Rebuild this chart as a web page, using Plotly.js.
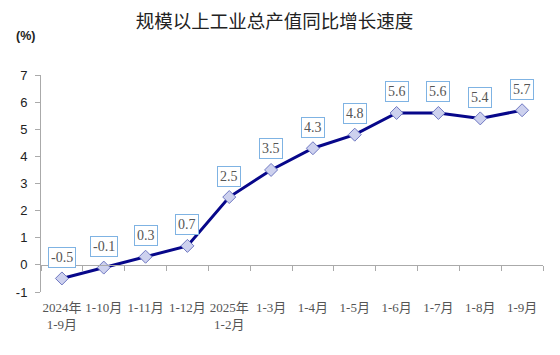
<!DOCTYPE html>
<html>
<head>
<meta charset="utf-8">
<script src="https://cdn.plot.ly/plotly-3.0.1.min.js"></script>
<style>html,body{margin:0;padding:0;background:#fff;}#chart{width:560px;height:355px;}</style>
</head>
<body>
<div id="chart"></div>
<script>
const categories = ["2024年<br>1-9月","1-10月","1-11月","1-12月","2025年<br>1-2月","1-3月","1-4月","1-5月","1-6月","1-7月","1-8月","1-9月"];
const values = [-0.5,-0.1,0.3,0.7,2.5,3.5,4.3,4.8,5.6,5.6,5.4,5.7];
const yTicks = [-1,0,1,2,3,4,5,6,7];
const chartTitle = "规模以上工业总产值同比增长速度";
const unitLabel = "(%)";

const idx = categories.map((c,i)=>i);
const serif = "Liberation Serif, 'Noto Sans CJK SC', serif";

const trace = {
  x: idx, y: values, type: "scatter", mode: "lines+markers",
  line: {color: "#07078a", width: 3},
  marker: {symbol: "diamond", size: 10, color: "#cdd1ee", line: {color: "#6f78c2", width: 1}},
  hoverinfo: "none", xaxis: "x", yaxis: "y"
};
const axisTrace = {x: [idx[0]], y: [0], xaxis: "x2", yaxis: "y", mode: "markers", marker:{opacity:0}, hoverinfo:"none", showlegend:false};

const boundaries = [];
for (let i = 0; i <= categories.length; i++) boundaries.push(i - 0.5);

const annotations = values.map((v,i)=>({
  x: i, y: v, xref: "x", yref: "y", text: v.toFixed(1),
  showarrow: false, yshift: 21,
  font: {family: serif, size: 14, color: "#555"},
  bordercolor: "#7fb3e3", borderwidth: 1, borderpad: 2, bgcolor: "#fff"
}));
annotations.push({
  text: "<b>" + unitLabel + "</b>", xref: "paper", yref: "paper", x: -0.03, y: 1.18,
  xanchor: "center", yanchor: "middle", showarrow: false,
  font: {family: "Liberation Sans, Arial, sans-serif", size: 12.5, color: "#222"}
});

const layout = {
  width: 560, height: 355,
  margin: {l: 41, r: 17, t: 75, b: 63},
  paper_bgcolor: "#fff", plot_bgcolor: "#fff",
  showlegend: false,
  title: {text: chartTitle, x: 0.49, xanchor: "center", y: 0.94, yanchor: "middle",
          font: {family: "'Noto Sans CJK SC', sans-serif", size: 18.5, color: "#222"}},
  xaxis: {
    range: [-0.5, categories.length - 0.5], tickmode: "array", tickvals: idx, ticktext: categories,
    showline: false, showgrid: false, zeroline: false, ticks: "", ticklabelstandoff: 6,
    tickfont: {family: serif, size: 13, color: "#555"}, fixedrange: true
  },
  xaxis2: {
    overlaying: "x", anchor: "free", position: 0.125, side: "bottom",
    range: [-0.5, categories.length - 0.5], tickmode: "array", tickvals: boundaries,
    showticklabels: false, ticks: "outside", ticklen: 5, tickcolor: "#aaa",
    showline: true, linecolor: "#aaa", linewidth: 1, showgrid: false, zeroline: false
  },
  yaxis: {
    range: [-1, 7], tickmode: "array", tickvals: yTicks, ticktext: yTicks.map(String),
    showline: true, linecolor: "#aaa", linewidth: 1, ticks: "outside", ticklen: 5, tickcolor: "#aaa",
    showgrid: false, zeroline: false, ticklabelstandoff: 5,
    tickfont: {family: "Liberation Sans, Arial, sans-serif", size: 13, color: "#222"}
  },
  annotations: annotations
};

Plotly.newPlot("chart", [axisTrace, trace], layout, {staticPlot: true, displayModeBar: false});
</script>
</body>
</html>
